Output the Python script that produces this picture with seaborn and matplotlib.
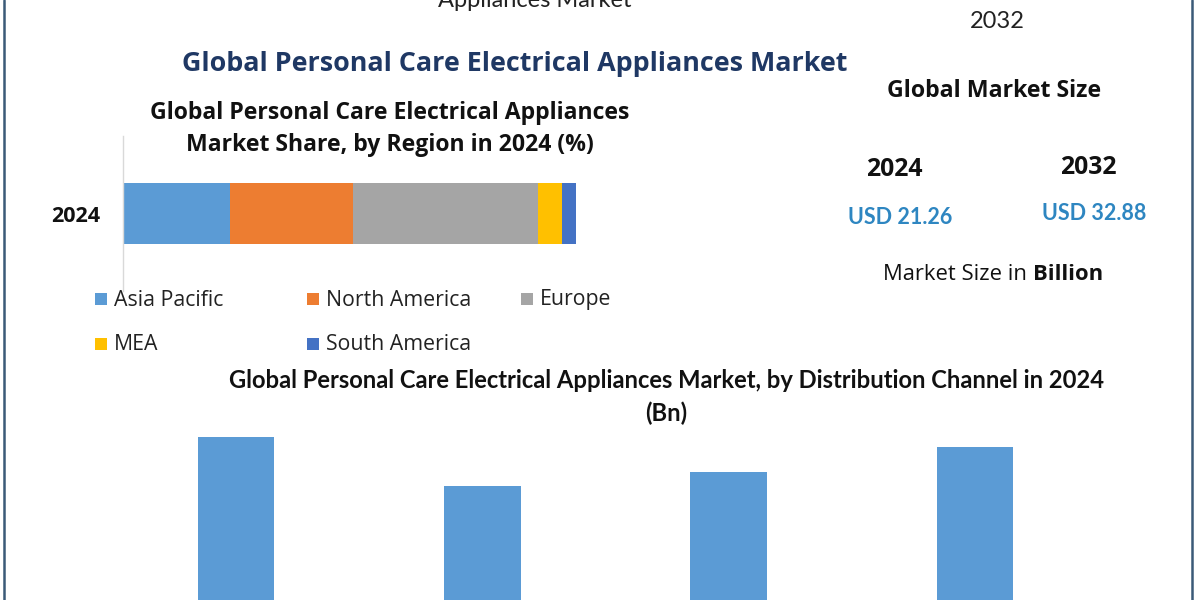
import numpy as np
import pandas as pd
import matplotlib
matplotlib.use("Agg")
import matplotlib.pyplot as plt
import seaborn as sns
from matplotlib.lines import Line2D
from matplotlib.patches import Rectangle

# ---------------- data ----------------
regions = ["Asia Pacific", "North America", "Europe", "MEA", "South America"]
region_share = [23.7, 27.1, 40.8, 5.4, 3.0]
region_colors = ["#5B9BD5", "#ED7D31", "#A5A5A5", "#FFC000", "#4472C4"]
share_year = "2024"

channels = ["Hypermarkets/Supermarkets", "Specialty Stores", "Online", "Others"]
channel_values = [5.80, 4.79, 5.08, 5.59]

market_years = ["2024", "2032"]
market_values = [21.26, 32.88]

main_title = "Global Personal Care Electrical Appliances Market"
share_title = "Global Personal Care Electrical Appliances\nMarket Share, by Region in 2024 (%)"
channel_title = "Global Personal Care Electrical Appliances Market, by Distribution Channel in 2024\n(Bn)"

# ---------------- style ----------------
sns.set_theme(style="white")
plt.rcParams["font.family"] = ["Open Sans", "DejaVu Sans"]
NARROW = ["Lato", "DejaVu Sans"]

W, H = 1200, 600
fig = plt.figure(figsize=(12, 6), dpi=100)
fig.patch.set_facecolor("white")


def fx(x):
    return x / W


def fy(y):
    return 1 - y / H


def rect(l, t, r, b):
    return [fx(l), fy(b), fx(r) - fx(l), (b - t) / H]


# ---------------- stacked share bar ----------------
ax1 = fig.add_axes(rect(123, 136, 576, 291))
df_share = pd.DataFrame({"region": regions, "share": region_share, "color": region_colors})
df_share["left"] = df_share["share"].cumsum() - df_share["share"]
for _, row in df_share.iterrows():
    ax1.barh([0], [row["share"]], left=[row["left"]], height=0.39,
             color=row["color"], linewidth=0)
ax1.set_xlim(0, 100)
ax1.set_ylim(-0.5, 0.5)
ax1.set_xticks([])
ax1.set_yticks([0])
ax1.set_yticklabels([share_year], fontsize=15.5, fontweight="bold", color="#111111")
ax1.tick_params(axis="y", length=0, pad=16)
for s in ["top", "right", "bottom"]:
    ax1.spines[s].set_visible(False)
ax1.spines["left"].set_color("#D9D9D9")
ax1.spines["left"].set_linewidth(1.0)
ax1.set_facecolor("none")

# manual legend (two rows)
leg_pos = [(95, 300), (307, 300), (521, 300), (95, 345), (307, 345)]
for (lx, ly), name, col in zip(leg_pos, regions, region_colors):
    fig.add_artist(Rectangle((fx(lx), fy(ly + 5)), 12 / W, 12 / H,
                             transform=fig.transFigure, color=col, lw=0))
    fig.text(fx(lx + 19), fy(ly), name, fontsize=15.3, color="#222222",
             ha="left", va="center")

# ---------------- distribution channel bars ----------------
ax2 = fig.add_axes(rect(113, 425, 1098, 600))
df_ch = pd.DataFrame({"channel": channels, "value": channel_values})
sns.barplot(data=df_ch, x="channel", y="value", ax=ax2, color="#5B9BD5",
            saturation=1, width=0.31, linewidth=0)
ax2.set_xlim(-0.5, 3.5)
ax2.set_ylim(2.459, 6.045)
ax2.set_xticks([])
ax2.set_yticks([])
ax2.set_xlabel("")
ax2.set_ylabel("")
for s in ax2.spines.values():
    s.set_visible(False)
ax2.set_facecolor("none")

# ---------------- texts ----------------
fig.text(fx(535), fy(7), "Appliances Market", fontsize=17, color="#222222",
         ha="center", va="baseline", family=NARROW)
fig.text(fx(997), fy(22), "2032", fontsize=17, color="#222222",
         ha="center", va="center", family=NARROW)

fig.text(fx(515), fy(64), main_title, fontsize=19.4, fontweight="bold",
         color="#1F3864", ha="center", va="center")
fig.text(fx(390), fy(129), share_title, fontsize=16.6, fontweight="bold",
         color="#111111", ha="center", va="center", linespacing=1.47)

fig.text(fx(994), fy(91), "Global Market Size", fontsize=16.7, fontweight="bold",
         color="#111111", ha="center", va="center")
year_x = [894, 1088]
year_y = [169, 168]
val_y = [218, 214]
for yr, v, x, y1, y2 in zip(market_years, market_values, year_x, year_y, val_y):
    fig.text(fx(x), fy(y1), yr, fontsize=17.8, fontweight="bold",
             color="#111111", ha="center", va="center")
    fig.text(fx(x + 6), fy(y2), f"USD {v:.2f}", fontsize=15.5, fontweight="bold",
             color="#2E86C1", ha="center", va="center",
             family=["Lato", "DejaVu Sans"])
fig.text(fx(1027), fy(275), "Market Size in", fontsize=15.8, color="#111111",
         ha="right", va="center")
fig.text(fx(1033), fy(275), "Billion", fontsize=15.8, fontweight="bold",
         color="#111111", ha="left", va="center")

fig.text(fx(666), fy(397), channel_title, fontsize=17.1, fontweight="bold",
         color="#111111", ha="center", va="center", linespacing=1.5,
         family=NARROW)

# ---------------- frame lines ----------------
for x in [3.5, 1191.5]:
    fig.add_artist(Line2D([fx(x), fx(x)], [0, 1], transform=fig.transFigure,
                          color="#3B5A78", lw=1.8))

fig.savefig("out.png", dpi=100, facecolor="white")
